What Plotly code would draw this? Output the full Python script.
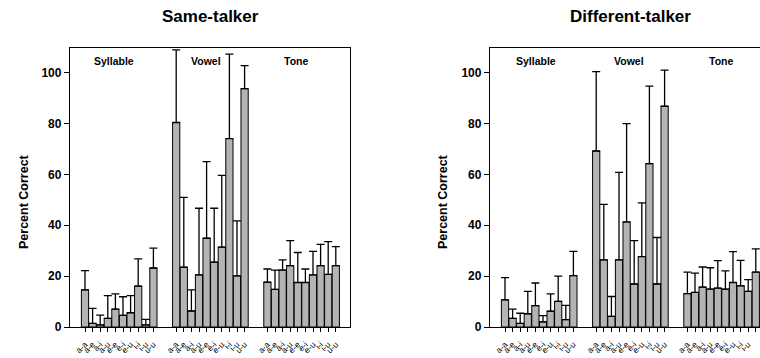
import plotly.graph_objects as go

pairs = ["a-a", "a-e", "a-i", "a-u", "e-e", "e-i", "e-u", "i-i", "i-u", "u-u"]
groups = ["Syllable", "Vowel", "Tone"]

# Same-talker: means and SD (upper error)
same_syllable = [14.6, 1.4, 0.8, 3.4, 7.0, 4.6, 5.6, 16.1, 0.8, 23.2]
same_syllable_sd = [7.6, 5.9, 3.9, 8.9, 6.0, 7.3, 6.7, 10.7, 2.2, 7.8]
same_vowel = [80.4, 23.5, 6.3, 20.5, 34.9, 25.5, 31.4, 74.1, 20.1, 93.7]
same_vowel_sd = [28.6, 27.5, 8.3, 26.2, 30.1, 21.2, 28.2, 33.2, 21.6, 9.1]
same_tone = [17.6, 14.8, 22.4, 24.1, 17.5, 17.5, 20.5, 24.1, 20.7, 24.1]
same_tone_sd = [5.2, 7.6, 4.0, 9.9, 11.8, 5.3, 9.2, 8.4, 12.9, 7.5]

# Different-talker
diff_syllable = [10.7, 3.4, 1.4, 5.2, 8.4, 2.0, 6.2, 10.1, 2.9, 20.2]
diff_syllable_sd = [8.7, 3.6, 4.0, 8.8, 8.9, 2.5, 6.8, 9.9, 5.6, 9.5]
diff_vowel = [69.2, 26.4, 4.2, 26.4, 41.3, 16.9, 27.7, 64.2, 16.9, 86.8]
diff_vowel_sd = [31.2, 21.8, 7.8, 34.4, 38.7, 17.1, 21.1, 30.5, 18.3, 14.2]
diff_tone = [13.1, 13.6, 15.7, 14.9, 15.3, 14.9, 17.5, 16.2, 14.0, 21.6]
diff_tone_sd = [8.5, 7.6, 7.9, 8.4, 10.8, 7.2, 12.1, 10.0, 4.6, 9.1]

panel_titles = ["Same-talker", "Different-talker"]
y_title = "Percent Correct"
y_ticks = [0, 20, 40, 60, 80, 100]

panels = [
    [(same_syllable, same_syllable_sd), (same_vowel, same_vowel_sd), (same_tone, same_tone_sd)],
    [(diff_syllable, diff_syllable_sd), (diff_vowel, diff_vowel_sd), (diff_tone, diff_tone_sd)],
]

FONT = "Arial, Liberation Sans, sans-serif"
W, H = 760, 358
GROUP_STEP = 12

fig = go.Figure()

xs_all = []
labels_all = []
for g in range(3):
    for i, p in enumerate(pairs):
        xs_all.append(g * GROUP_STEP + i)
        labels_all.append(p)

for pi, panel in enumerate(panels):
    xa = "x" if pi == 0 else "x2"
    ya = "y" if pi == 0 else "y2"
    for g, (vals, sds) in enumerate(panel):
        xs = [g * GROUP_STEP + i for i in range(len(vals))]
        fig.add_trace(go.Bar(
            x=xs, y=vals, xaxis=xa, yaxis=ya, width=0.95,
            marker=dict(color="#b4b4b4", line=dict(color="black", width=1)),
            error_y=dict(type="data", symmetric=False, array=sds,
                         arrayminus=[0] * len(sds), color="black",
                         thickness=1.3, width=4),
            showlegend=False, hoverinfo="skip",
        ))

px_per_unit = 7.6
axis_common = dict(
    showline=True, linecolor="black", linewidth=1.3, ticks="outside",
    tickcolor="black", tickwidth=1, ticklen=4, showgrid=False, zeroline=False,
    tickmode="array", tickvals=xs_all, ticktext=labels_all, tickangle=-45,
    tickfont=dict(family=FONT, size=8.5, color="black"), automargin=False,
    ticklabelstandoff=4,
)
yaxis_common = dict(
    showline=True, linecolor="black", linewidth=1.3, ticks="outside",
    tickcolor="black", tickwidth=1.3, ticklen=5, showgrid=False, zeroline=False,
    tickmode="array", tickvals=y_ticks, range=[0, 109.7],
    tickfont=dict(family=FONT, size=12, color="black", weight="bold"),
    domain=[1 - 327 / H, 1 - 48 / H], automargin=False,
)

fig.update_layout(
    width=W, height=H, margin=dict(l=0, r=0, t=0, b=0),
    paper_bgcolor="white", plot_bgcolor="white", barmode="overlay",
    xaxis=dict(axis_common, domain=[70 / W, 350 / W],
               range=[-15 / px_per_unit, 265 / px_per_unit], mirror=True, anchor="y"),
    yaxis=dict(yaxis_common, mirror=True, anchor="x"),
    xaxis2=dict(axis_common, domain=[490 / W, 1.0],
                range=[-15 / px_per_unit, 255 / px_per_unit], mirror=True, anchor="y2"),
    yaxis2=dict(yaxis_common, mirror=False, anchor="x2"),
)

ann = []
title_x = [210 / W, 630 / W]
ylab_x = [24 / W, 443 / W]
group_x = [[3.75, 15.9, 27.8], [4.1, 16.3, 28.4]]
for pi in range(2):
    ann.append(dict(text="<b>%s</b>" % panel_titles[pi], x=title_x[pi], y=1 - 17 / H,
                    xref="paper", yref="paper", showarrow=False,
                    xanchor="center", yanchor="middle",
                    font=dict(family=FONT, size=17, color="black")))
    ann.append(dict(text="<b>%s</b>" % y_title, x=ylab_x[pi], y=1 - 202 / H,
                    xref="paper", yref="paper", showarrow=False, textangle=-90,
                    xanchor="center", yanchor="middle",
                    font=dict(family=FONT, size=12.5, color="black")))
    xr = "x" if pi == 0 else "x2"
    yr = "y" if pi == 0 else "y2"
    for g, name in enumerate(groups):
        ann.append(dict(text="<b>%s</b>" % name, x=group_x[pi][g], y=104.6,
                        xref=xr, yref=yr, showarrow=False,
                        xanchor="center", yanchor="middle",
                        font=dict(family=FONT, size=10.5, color="black")))
fig.update_layout(annotations=ann)

fig.write_html("out.html")
